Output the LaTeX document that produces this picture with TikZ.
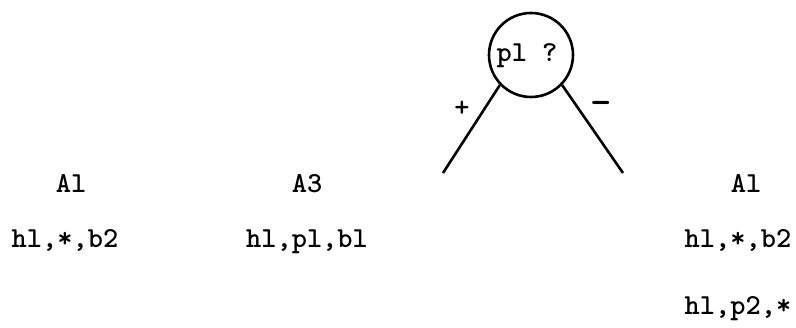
\documentclass[tikz,border=0pt]{standalone}
\usepackage{fontspec}
\usepackage{graphicx}
\begin{document}
\begin{tikzpicture}[x=1pt,y=-1pt,
  lbl/.style={font=\ttfamily\bfseries\fontsize{29}{34}\selectfont, inner sep=0pt, anchor=base},
  sign/.style={font=\ttfamily\bfseries\fontsize{29}{34}\selectfont, inner sep=0pt},
  test/.style={draw, circle, line width=2.6pt, minimum size=84pt, inner sep=0pt},
  branch/.style={line width=2.6pt}]
\useasboundingbox (0,0) rectangle (796,328);
\node[test] (q) at (531,55) {};
\node[lbl] (qt) at (527,62) {pl ?};
\coordinate (le) at (443,173);
\coordinate (re) at (623,173);
\draw[branch] (q.224) -- (le);
\draw[branch] (q.316) -- (re);
\node[sign] (plus) at (462,109) {+};
\node[sign] (minus) at (601,108) {\scalebox{1.4}[1.3]{-}};
\node[lbl] (a1l) at (71,193) {Al};
\node[lbl] (t1l) at (65,248) {hl,*,b2};
\node[lbl] (a3) at (307,193) {A3};
\node[lbl] (t3) at (307,248) {hl,pl,bl};
\node[lbl] (a1r) at (746,193) {Al};
\node[lbl] (t1r) at (738,248) {hl,*,b2};
\node[lbl] (t2r) at (738,315) {hl,p2,*};
\end{tikzpicture}
\end{document}
